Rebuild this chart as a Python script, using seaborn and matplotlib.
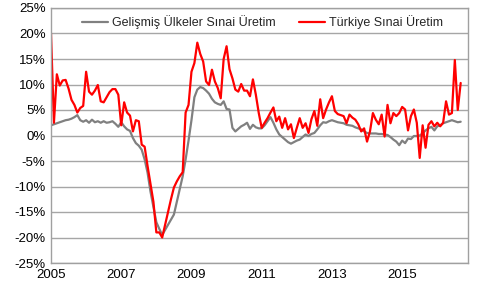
import numpy as np
import pandas as pd
import matplotlib
matplotlib.use("Agg")
import matplotlib.pyplot as plt
import seaborn as sns

# ---- data (monthly, Jan 2005 .. Sep 2016), % yoy ----
series_names = ["Gelişmiş Ülkeler Sınai Üretim", "Türkiye Sınai Üretim"]

developed = [
    2.0, 2.2, 2.4, 2.6, 2.8, 3.0, 3.1, 3.3, 3.6, 4.0, 3.0, 2.7,
    3.0, 2.5, 3.1, 2.6, 2.8, 2.5, 2.8, 2.5, 2.6, 2.8, 2.3, 1.7,
    2.6, 1.8, 1.2, 0.9, -0.5, -1.5, -2.0, -2.8, -4.7, -7.3, -11.0, -14.0,
    -17.0, -18.3, -19.5, -18.5, -17.5, -16.5, -15.5, -13.0, -10.5, -8.0, -4.7, -1.0,
    3.0, 7.5, 9.0, 9.5, 9.3, 8.8, 8.2, 7.2, 6.5, 6.2, 6.0, 6.7,
    5.2, 5.1, 1.5, 0.8, 1.3, 1.8, 2.1, 2.5, 1.3, 2.1, 1.6, 1.4,
    1.4, 2.0, 2.8, 3.6, 2.5, 1.2, 0.2, -0.3, -0.8, -1.3, -1.6, -1.3,
    -1.0, -0.8, -0.3, 0.2, -0.1, 0.3, 0.5, 1.2, 2.0, 2.6, 2.5, 2.8,
    3.0, 2.8, 2.6, 2.5, 2.4, 2.1, 2.0, 1.9, 1.6, 1.4, 1.2, 0.8,
    0.5, 0.4, 0.4, 0.4, 0.3, 0.3, 0.2, 0.1, -0.3, -0.8, -1.2, -1.9,
    -1.0, -1.5, -0.6, -0.7, -0.1, -0.1, 0.0, 0.4, 1.0, 1.4, 1.7, 1.0,
    1.8, 2.0, 2.4, 2.6, 2.8, 3.0, 2.8, 2.6, 2.7,
]

turkey = [
    20.0, 2.5, 12.0, 9.8, 10.8, 10.9, 9.2, 7.0, 6.0, 4.5, 5.4, 5.8,
    12.5, 8.6, 8.0, 8.8, 9.9, 6.7, 6.5, 7.5, 8.5, 9.1, 9.1, 8.0,
    2.0, 6.5, 4.5, 3.9, 0.8, 3.0, 2.8, -1.8, -2.2, -6.0, -9.5, -13.0,
    -19.0, -19.0, -20.0, -17.5, -15.0, -12.5, -10.2, -9.0, -8.0, -7.2, 4.5, 6.0,
    12.5, 14.2, 18.2, 16.0, 14.5, 10.6, 9.9, 12.9, 10.6, 9.3, 7.3, 15.0,
    17.5, 13.0, 11.2, 9.0, 8.6, 10.1, 8.8, 8.8, 7.7, 11.0, 8.0, 4.4,
    1.5, 2.5, 3.4, 4.5, 5.5, 2.8, 3.7, 1.5, 3.4, 1.2, 2.2, -0.5,
    1.5, 3.4, 1.5, 2.4, 0.5, 3.2, 4.8, 1.9, 7.1, 3.4, 5.1, 6.5,
    7.7, 4.8, 4.2, 4.0, 3.8, 2.4, 4.1, 3.5, 3.1, 2.2, 0.8, 1.4,
    -1.2, 0.8, 4.4, 3.1, 2.2, 4.1, -0.2, 6.0, 2.4, 4.4, 3.8, 4.4,
    5.6, 5.1, 1.0, 3.8, 5.1, 2.5, -4.4, 2.0, -2.4, 2.1, 2.8, 1.8,
    2.5, 1.8, 2.5, 6.7, 4.1, 4.4, 14.8, 5.0, 10.3,
]

year_labels = ["2005", "2007", "2009", "2011", "2013", "2015"]
y_values = [25, 20, 15, 10, 5, 0, -5, -10, -15, -20, -25]
y_labels = ["25%", "20%", "15%", "10%", "5%", "0%", "-5%", "-10%", "-15%", "-20%", "-25%"]

months = np.arange(len(turkey))
df = pd.concat([
    pd.DataFrame({"m": months, "v": developed, "s": series_names[0]}),
    pd.DataFrame({"m": months, "v": turkey, "s": series_names[1]}),
])

sns.set_theme(style="white")
plt.rcParams["font.family"] = ["Liberation Sans", "DejaVu Sans"]

fig = plt.figure(figsize=(4.81, 2.89), dpi=100)
ax = fig.add_axes([51 / 481, 1 - 263 / 289, 417 / 481, 255 / 289])

sns.lineplot(data=df, x="m", y="v", hue="s", hue_order=series_names,
             palette=["#808080", "#FF0000"], linewidth=1.6, ax=ax,
             legend=True)

ax.set_xlim(0, 142.5)
ax.set_ylim(-25, 25)
ax.set_yticks(y_values)
ax.set_yticklabels(y_labels)
ax.set_xticks([24 * i for i in range(len(year_labels))])
ax.set_xticklabels(year_labels)
ax.tick_params(axis="both", length=0, labelsize=9.5, colors="black", pad=4)
ax.set_xlabel("")
ax.set_ylabel("")

ax.grid(axis="y", color="#A6A6A6", linewidth=1.0)
ax.grid(axis="x", visible=False)
ax.set_axisbelow(True)
for sp in ax.spines.values():
    sp.set_color("#A0A0A0")
    sp.set_linewidth(1.0)

leg = ax.legend(loc="center", bbox_to_anchor=(0.507, 0.945), ncol=2,
                frameon=False, fontsize=9, handlelength=2.1,
                columnspacing=1.9, handletextpad=0.3, borderaxespad=0)

fig.savefig("out.png", dpi=100)
